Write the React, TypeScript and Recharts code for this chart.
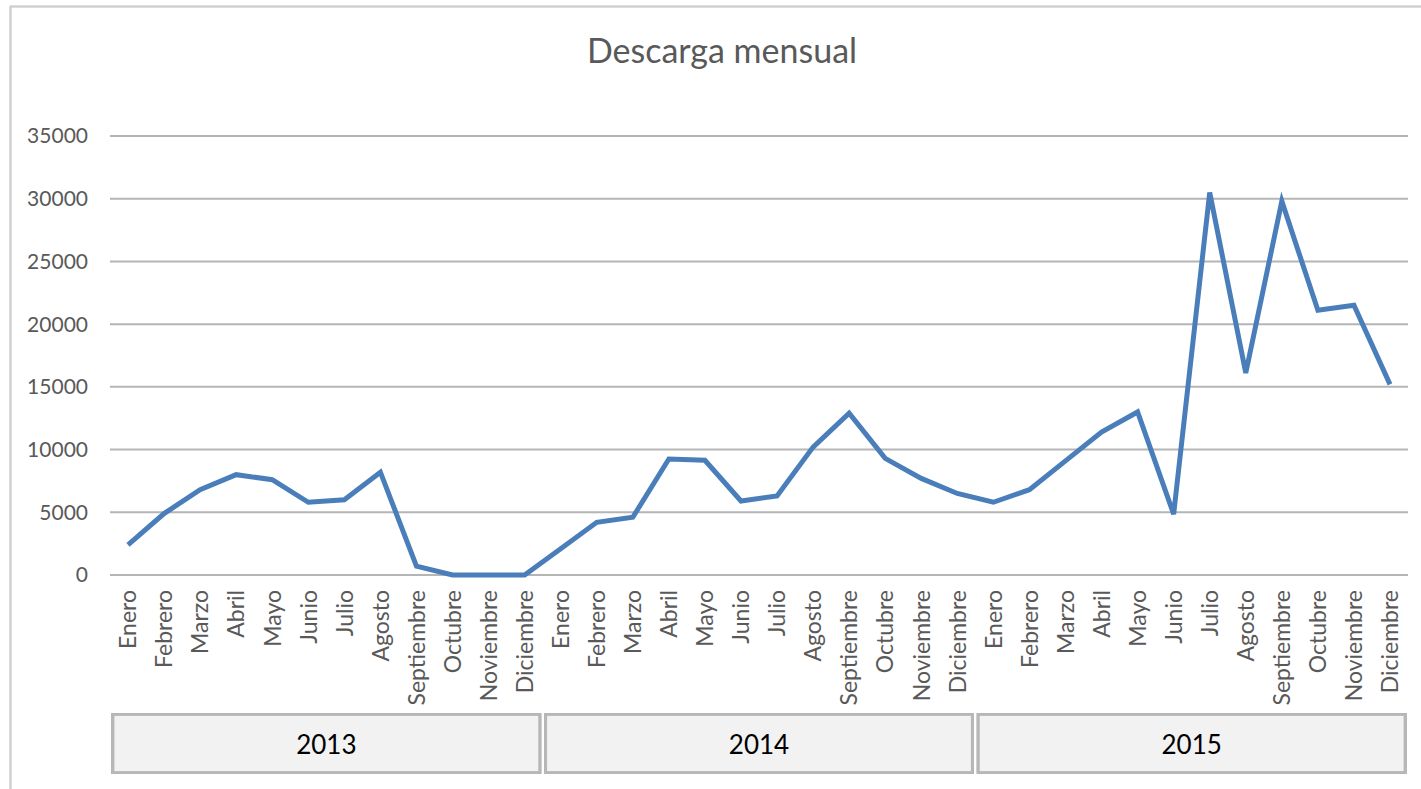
import React from "react";
import { LineChart, Line, XAxis, YAxis, CartesianGrid } from "recharts";

const months = ["Enero", "Febrero", "Marzo", "Abril", "Mayo", "Junio", "Julio", "Agosto", "Septiembre", "Octubre", "Noviembre", "Diciembre"];
const years = ["2013", "2014", "2015"];
const values2013 = [2400, 4900, 6800, 8000, 7600, 5800, 6000, 8200, 700, 0, 0, 0];
const values2014 = [2100, 4200, 4600, 9250, 9150, 5900, 6300, 10200, 12900, 9300, 7700, 6500];
const values2015 = [5800, 6800, 9100, 11400, 13000, 4850, 30500, 16100, 29800, 21100, 21500, 15200];
const yTicks = [0, 5000, 10000, 15000, 20000, 25000, 30000, 35000];
const title = "Descarga mensual";

const seriesByYear = [values2013, values2014, values2015];
const data = years.flatMap((year, yi) =>
  months.map((month, mi) => ({ year, month, value: seriesByYear[yi][mi] }))
);

const FONT = "Lato, 'Open Sans', sans-serif";
const W = 1421;
const H = 789;

const MonthTick = (props: any) => {
  const { x, y, payload } = props;
  return (
    <g transform={`translate(${x},${y})`}>
      <text
        transform="rotate(-90)"
        x={-7}
        y={0}
        dy="0.36em"
        textAnchor="end"
        fill="#595959"
        fontSize={23}
        fontFamily={FONT}
      >
        {payload.value}
      </text>
    </g>
  );
};

const YearTick = (props: any) => {
  const { x, y, payload, width } = props;
  const bw = width / years.length;
  const left = x - bw / 2 + 3;
  return (
    <g>
      <rect
        x={left}
        y={y + 1.5}
        width={bw - 6}
        height={58}
        fill="#f2f2f2"
        stroke="#b7b7b7"
        strokeWidth={2.8}
      />
      <text
        x={x}
        y={y + 31}
        dominantBaseline="central"
        textAnchor="middle"
        fill="#000000"
        fontSize={26}
        fontFamily={FONT}
      >
        {payload.value}
      </text>
    </g>
  );
};

export default function App() {
  return (
    <div style={{ position: "absolute", left: 0, top: 0, width: W, height: H, background: "#ffffff" }}>
      <LineChart
        width={W}
        height={H}
        data={data}
        margin={{ top: 136, right: 13, bottom: 16, left: 0 }}
      >
        <CartesianGrid vertical={false} stroke="#b5b5b5" strokeWidth={2} />
        <XAxis
          xAxisId="month"
          dataKey="month"
          padding={{ left: 18, right: 18 }}
          interval={0}
          height={138}
          axisLine={false}
          tickLine={false}
          tick={<MonthTick />}
        />
        <XAxis
          xAxisId="year"
          dataKey="year"
          scale="band"
          allowDuplicatedCategory={false}
          interval={0}
          height={60}
          axisLine={false}
          tickLine={false}
          tickSize={0}
          tickMargin={0}
          tick={<YearTick />}
        />
        <YAxis
          width={110}
          domain={[0, 35000]}
          ticks={yTicks}
          interval={0}
          axisLine={false}
          tickLine={false}
          tickSize={0}
          tickMargin={22}
          tick={{ fill: "#595959", fontSize: 21, fontFamily: FONT }}
        />
        <Line
          xAxisId="month"
          type="linear"
          dataKey="value"
          stroke="#4a7ebb"
          strokeWidth={5}
          dot={false}
          isAnimationActive={false}
        />
      </LineChart>
      <svg
        width={W}
        height={H}
        style={{ position: "absolute", left: 0, top: 0, pointerEvents: "none" }}
      >
        <line x1={10} y1={6.5} x2={W} y2={6.5} stroke="#d0d0d0" strokeWidth={2.5} />
        <line x1={10.5} y1={6} x2={10.5} y2={H} stroke="#d0d0d0" strokeWidth={2.5} />
        <text
          x={722}
          y={63}
          textAnchor="middle"
          fill="#595959"
          fontSize={34}
          fontFamily={FONT}
        >
          {title}
        </text>
      </svg>
    </div>
  );
}
